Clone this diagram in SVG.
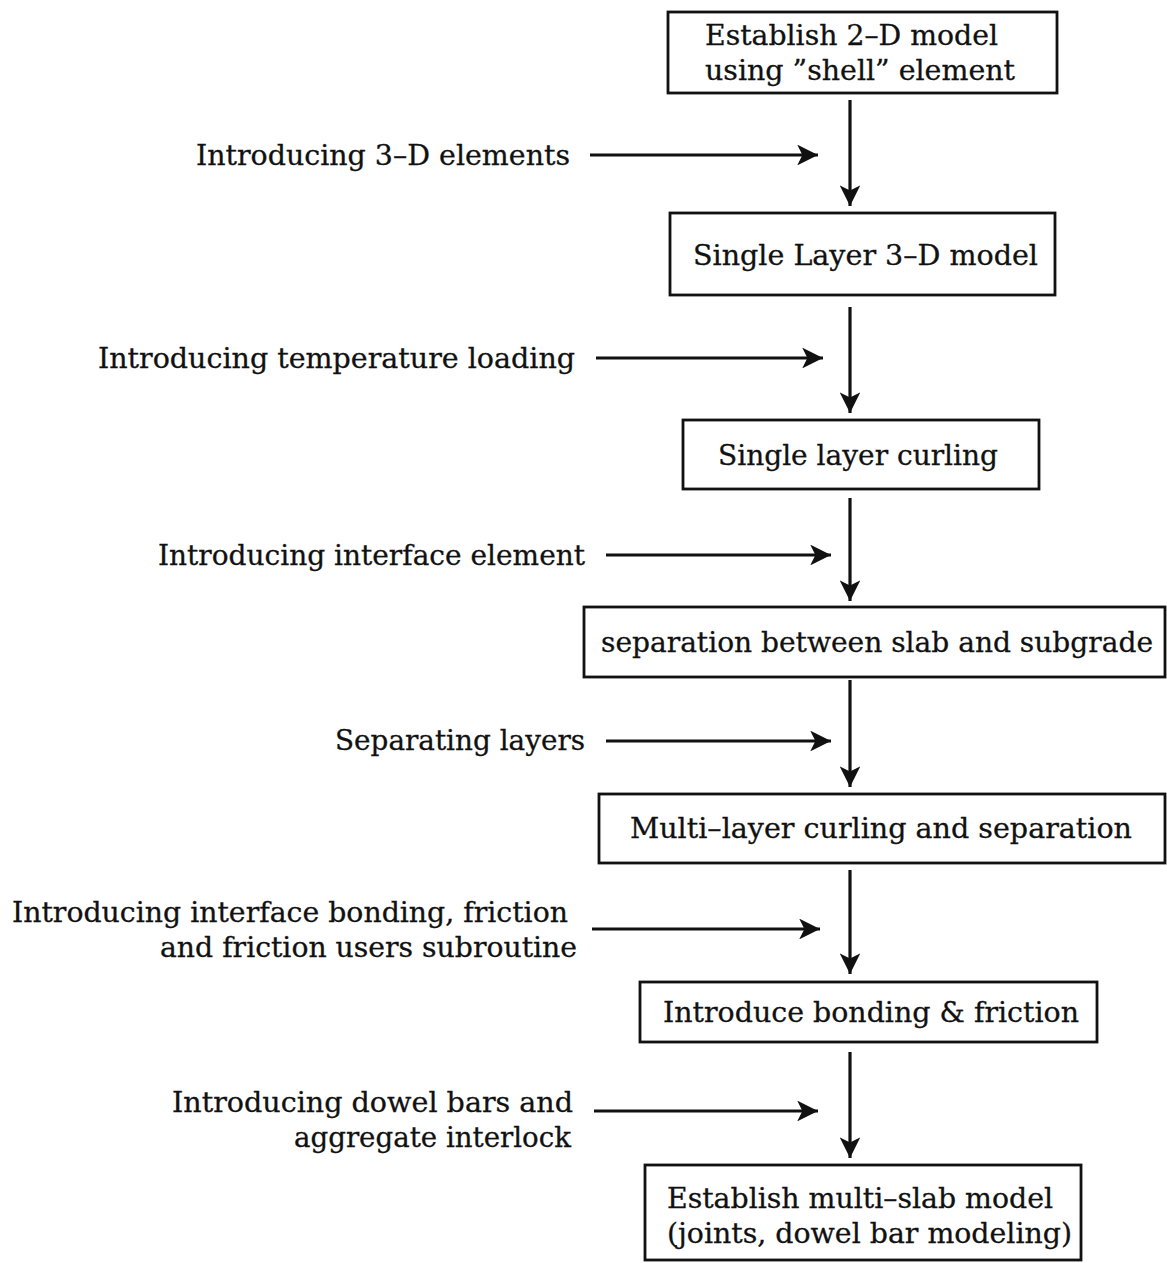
<svg xmlns="http://www.w3.org/2000/svg" width="1167" height="1263" viewBox="0 0 1167 1263">
<defs>
<marker id="ah" viewBox="0 0 10 10" refX="10" refY="5" markerWidth="7" markerHeight="6.5" markerUnits="strokeWidth" orient="auto">
<path d="M0,0 L10,5 L0,10 L2.5,5 Z" fill="#111"/>
</marker>
<style>
.box{fill:#fff;stroke:#111;stroke-width:2.8}
.t{font-family:"DejaVu Serif","Liberation Serif",serif;font-size:28px;fill:#111;stroke:#111;stroke-width:0.3}
.c{stroke:#111;stroke-width:3.2;fill:none;marker-end:url(#ah)}
</style>
</defs>
<rect width="1167" height="1263" fill="#fff"/>
<g id="connectors">
<line class="c" x1="850" y1="100" x2="850" y2="206"/>
<line class="c" x1="850" y1="307" x2="850" y2="413"/>
<line class="c" x1="850" y1="498" x2="850" y2="601"/>
<line class="c" x1="850" y1="680" x2="850" y2="787"/>
<line class="c" x1="850" y1="870" x2="850" y2="974"/>
<line class="c" x1="850" y1="1052" x2="850" y2="1158"/>
<line class="c" x1="590" y1="155" x2="818" y2="155"/>
<line class="c" x1="596" y1="358" x2="823" y2="358"/>
<line class="c" x1="606" y1="555" x2="831" y2="555"/>
<line class="c" x1="606" y1="741" x2="831" y2="741"/>
<line class="c" x1="592" y1="929" x2="820" y2="929"/>
<line class="c" x1="594" y1="1111" x2="818" y2="1111"/>
</g>
<g id="n1"><rect class="box" x="668" y="12" width="389" height="81"/>
<text class="t" x="705" y="45" textLength="293" lengthAdjust="spacingAndGlyphs">Establish 2–D model</text>
<text class="t" x="705" y="80" textLength="310" lengthAdjust="spacingAndGlyphs">using ”shell” element</text></g>
<g id="n2"><rect class="box" x="670" y="213" width="385" height="82"/>
<text class="t" x="693" y="265" textLength="345" lengthAdjust="spacingAndGlyphs">Single Layer 3–D model</text></g>
<g id="n3"><rect class="box" x="683" y="420" width="356" height="69"/>
<text class="t" x="718" y="465" textLength="280" lengthAdjust="spacingAndGlyphs">Single layer curling</text></g>
<g id="n4"><rect class="box" x="584" y="607" width="581" height="70"/>
<text class="t" x="601" y="652" textLength="552" lengthAdjust="spacingAndGlyphs">separation between slab and subgrade</text></g>
<g id="n5"><rect class="box" x="599" y="794" width="566" height="69"/>
<text class="t" x="630" y="838" textLength="502" lengthAdjust="spacingAndGlyphs">Multi–layer curling and separation</text></g>
<g id="n6"><rect class="box" x="640" y="982" width="457" height="60"/>
<text class="t" x="663" y="1022" textLength="416" lengthAdjust="spacingAndGlyphs">Introduce bonding &amp; friction</text></g>
<g id="n7"><rect class="box" x="645" y="1165" width="436" height="95"/>
<text class="t" x="667" y="1208" textLength="386" lengthAdjust="spacingAndGlyphs">Establish multi–slab model</text>
<text class="t" x="667" y="1243" textLength="405" lengthAdjust="spacingAndGlyphs">(joints, dowel bar modeling)</text></g>
<g id="labels">
<text class="t" x="196" y="165" textLength="374" lengthAdjust="spacingAndGlyphs">Introducing 3–D elements</text>
<text class="t" x="98" y="368" textLength="477" lengthAdjust="spacingAndGlyphs">Introducing temperature loading</text>
<text class="t" x="158" y="565" textLength="427" lengthAdjust="spacingAndGlyphs">Introducing interface element</text>
<text class="t" x="335" y="750" textLength="250" lengthAdjust="spacingAndGlyphs">Separating layers</text>
<text class="t" x="12" y="922" textLength="556" lengthAdjust="spacingAndGlyphs">Introducing interface bonding, friction</text>
<text class="t" x="160" y="957" textLength="417" lengthAdjust="spacingAndGlyphs">and friction users subroutine</text>
<text class="t" x="172" y="1112" textLength="401" lengthAdjust="spacingAndGlyphs">Introducing dowel bars and</text>
<text class="t" x="294" y="1147" textLength="277" lengthAdjust="spacingAndGlyphs">aggregate interlock</text>
</g>
</svg>
